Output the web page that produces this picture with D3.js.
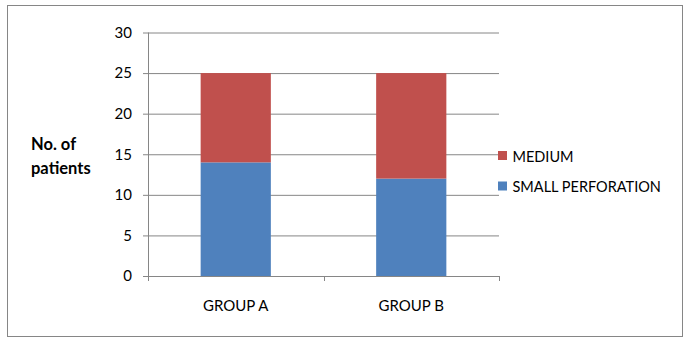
<!DOCTYPE html>
<html>
<head>
<meta charset="utf-8">
<script src="https://cdn.jsdelivr.net/npm/d3@7"></script>
<style>
  body { margin: 0; background: #fff; }
  text { font-family: Lato, "Open Sans", sans-serif; fill: #000; }
</style>
</head>
<body>
<div id="chart"></div>
<script>
// data
var groups = ["GROUP A", "GROUP B"];
var smallPerforation = [14, 12];
var medium = [11, 13];
var seriesNames = ["SMALL PERFORATION", "MEDIUM"];
var colors = ["#4f81bd", "#c0504d"];
var yTicks = [0, 5, 10, 15, 20, 25, 30];

const box = { width: 691, height: 343 };
const plot = { left: 148, right: 499, top: 32.5, bottom: 276 };

const svg = d3.select("#chart").append("svg")
    .attr("width", box.width).attr("height", box.height)

svg.append("rect")
    .attr("x", 7.5).attr("y", 5.5)
    .attr("width", 675).attr("height", 331)
    .attr("fill", "#fff").attr("stroke", "#868686")

const y = d3.scaleLinear()
    .domain([0, 30])
    .range([plot.bottom, plot.top])

const x = d3.scaleBand()
    .domain(groups)
    .range([plot.left, plot.right])
    .paddingInner(0.6).paddingOuter(0.3)

// gridlines
const grid = svg.append("g")
    .attr("transform", "translate(" + plot.left + ",0)")
    .call(d3.axisLeft(y).tickValues(yTicks).tickSize(-(plot.right - plot.left)).tickFormat(""))
grid.select(".domain").remove()
grid.selectAll("line").attr("stroke", "#868686")

// stacked bars
var table = groups.map((g, i) => ({ group: g, "SMALL PERFORATION": smallPerforation[i], "MEDIUM": medium[i] }))
const stacked = d3.stack().keys(seriesNames)(table)

svg.append("g").selectAll("g").data(stacked)
    .enter().append("g")
    .attr("fill", (d, i) => colors[i])
    .selectAll("rect").data(d => d)
    .enter().append("rect")
    .attr("x", d => x(d.data.group))
    .attr("y", d => y(d[1]))
    .attr("width", x.bandwidth())
    .attr("height", d => y(d[0]) - y(d[1]))

// y axis
const yaxis = svg.append("g")
    .attr("transform", "translate(" + plot.left + ",0)")
    .call(d3.axisLeft(y).tickValues(yTicks).tickSize(5).tickPadding(11))
yaxis.selectAll("path, line").attr("stroke", "#868686")
yaxis.select(".domain").attr("d", "M0.5," + plot.top + "V" + plot.bottom)
yaxis.selectAll("text")
    .style("font-family", "Lato").attr("font-size", "15px").attr("fill", "#000")

// x axis with ticks on the category boundaries
const xaxis = svg.append("g")
xaxis.append("line")
    .attr("x1", plot.left).attr("x2", plot.right)
    .attr("y1", plot.bottom + 0.5).attr("y2", plot.bottom + 0.5)
    .attr("stroke", "#868686")
xaxis.selectAll(".xtick").data(d3.range(groups.length + 1))
    .enter().append("line").attr("class", "xtick")
    .attr("x1", i => Math.round(plot.left + i * x.step()) + 0.5)
    .attr("x2", i => Math.round(plot.left + i * x.step()) + 0.5)
    .attr("y1", plot.bottom).attr("y2", plot.bottom + 5)
    .attr("stroke", "#868686")
xaxis.selectAll(".xlabel").data(groups)
    .enter().append("text").attr("class", "xlabel")
    .attr("x", d => x(d) + x.bandwidth() / 2)
    .attr("y", 310.5)
    .attr("text-anchor", "middle")
    .attr("font-size", "15px")
    .text(d => d)

// y title
svg.append("text")
    .attr("x", 31).attr("y", 150)
    .attr("font-size", "16.5px").attr("font-weight", "bold")
    .text("No. of")
svg.append("text")
    .attr("x", 31).attr("y", 174)
    .attr("font-size", "16.5px").attr("font-weight", "bold")
    .text("patients")

// legend, MEDIUM on top
var legendOrder = [1, 0]
const legend = svg.selectAll(".legend").data(legendOrder)
    .enter().append("g").attr("class", "legend")
    .attr("transform", (d, i) => "translate(498," + (151 + i * 30.5) + ")")
legend.append("rect")
    .attr("width", 9).attr("height", 9)
    .attr("fill", d => colors[d])
legend.append("text")
    .attr("x", 14.5).attr("y", 10.5)
    .attr("font-size", "14.5px")
    .text(d => seriesNames[d])
</script>
</body>
</html>
